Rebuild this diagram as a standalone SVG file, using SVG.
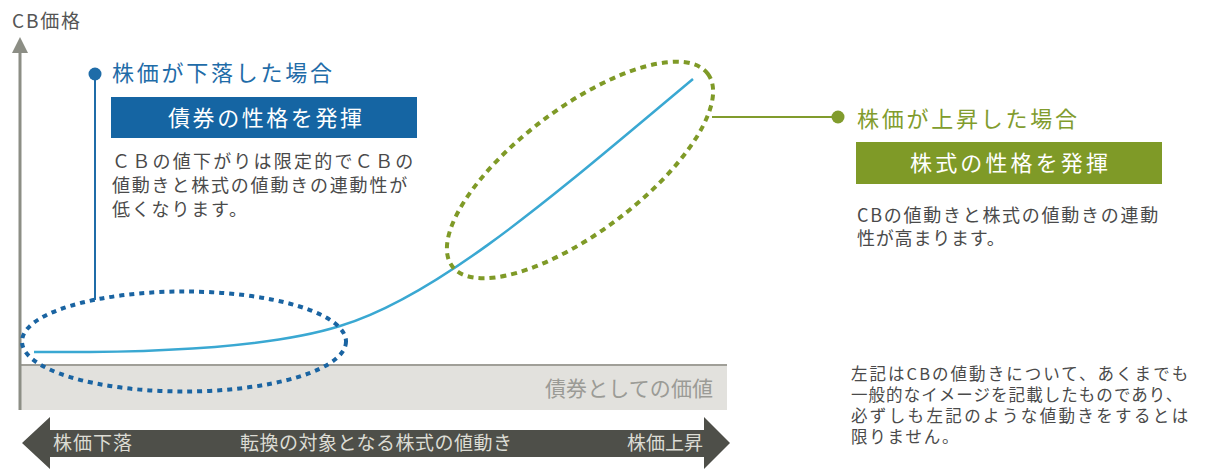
<svg xmlns="http://www.w3.org/2000/svg" width="1208" height="471" viewBox="0 0 1208 471">
  <style>
    text { font-family: "Noto Sans CJK JP", "Noto Sans", "Liberation Sans", sans-serif; }
    .body { font-size: 18px; fill: #4a4a4a; letter-spacing: 1.8px; }
    .note { font-size: 16.5px; fill: #4a4a4a; letter-spacing: 1.8px; }
    .title-blue { font-size: 22px; fill: #1f6ca8; }
    .title-green { font-size: 22px; fill: #819c2d; }
    .boxtext { font-size: 22px; fill: #ffffff; text-anchor: middle; }
    .arrowtext { font-size: 19px; fill: #dcdcd4; }
    .dot-blue { fill: none; stroke: #1a64a2; stroke-width: 4; stroke-dasharray: 5 5; }
    .dot-green { fill: none; stroke: #7f9a27; stroke-width: 4; stroke-dasharray: 6 5; }
  </style>

  <rect width="1208" height="471" fill="#ffffff"/>

  <g id="axis">
    <rect x="20" y="365" width="707" height="45" fill="#e2e1dd"/>
    <line x1="20" y1="365" x2="727" y2="365" stroke="#a09f98" stroke-width="2"/>
    <text x="545" y="396" font-size="21" fill="#9b9b96" textLength="168" lengthAdjust="spacing">債券としての価値</text>
    <line x1="20" y1="50" x2="20" y2="410" stroke="#8c8e85" stroke-width="3"/>
    <polygon points="20,37 12,53 28,53" fill="#8c8e85"/>
    <text x="12" y="28" font-size="19" fill="#555555" textLength="68" lengthAdjust="spacing">CB価格</text>
  </g>

  <g id="stock-arrow">
    <polygon points="22,443 50,417 50,430 704,430 704,417 730,443 704,469 704,457 50,457 50,469" fill="#4e4f49"/>
    <text class="arrowtext" x="53" y="450" textLength="79" lengthAdjust="spacing">株価下落</text>
    <text class="arrowtext" x="240" y="450" textLength="272" lengthAdjust="spacing">転換の対象となる株式の値動き</text>
    <text class="arrowtext" x="627" y="450" textLength="76" lengthAdjust="spacing">株価上昇</text>
  </g>

  <g id="cb-curve">
    <path d="M34,352 C150,353 270,348 340,326 C440,296 560,190 693,79" fill="none" stroke="#3aa8d2" stroke-width="2.5"/>
  </g>

  <g id="connectors">
    <ellipse class="dot-blue" cx="184" cy="341.5" rx="162" ry="50"/>
    <line x1="95" y1="74" x2="95" y2="300" stroke="#1f6ca8" stroke-width="2"/>
    <circle cx="95" cy="74" r="6.5" fill="#1f6ca8"/>
    <ellipse class="dot-green" cx="0" cy="0" rx="160" ry="62" transform="translate(580,170) rotate(-37)"/>
    <line x1="712" y1="117" x2="838" y2="117" stroke="#819c2d" stroke-width="2"/>
    <circle cx="838" cy="117" r="6.5" fill="#819c2d"/>
  </g>

  <g id="node-fall">
    <text class="title-blue" x="112" y="81" textLength="220" lengthAdjust="spacing">株価が下落した場合</text>
    <rect x="111" y="97" width="306" height="41" fill="#1565a3"/>
    <text class="boxtext" x="265" y="126" textLength="194" lengthAdjust="spacing">債券の性格を発揮</text>
    <text class="body" x="112" y="168" textLength="303" lengthAdjust="spacing">ＣＢの値下がりは限定的でＣＢの</text>
    <text class="body" x="112" y="192" textLength="297" lengthAdjust="spacing">値動きと株式の値動きの連動性が</text>
    <text class="body" x="112" y="216">低くなります。</text>
  </g>

  <g id="node-rise">
    <text class="title-green" x="857" y="127" textLength="220" lengthAdjust="spacing">株価が上昇した場合</text>
    <rect x="856" y="142" width="306" height="42" fill="#7f9a27"/>
    <text class="boxtext" x="1009" y="171" textLength="198" lengthAdjust="spacing">株式の性格を発揮</text>
    <text class="body" x="857" y="222" textLength="303" lengthAdjust="spacing">CBの値動きと株式の値動きの連動</text>
    <text class="body" x="857" y="245" style="letter-spacing:0.8px">性が高まります。</text>
  </g>

  <g id="note">
    <text class="note" x="851" y="380" textLength="339" lengthAdjust="spacing">左記はCBの値動きについて、あくまでも</text>
    <text class="note" x="851" y="401" textLength="333" lengthAdjust="spacing">一般的なイメージを記載したものであり、</text>
    <text class="note" x="851" y="422" textLength="339" lengthAdjust="spacing">必ずしも左記のような値動きをするとは</text>
    <text class="note" x="851" y="443">限りません。</text>
  </g>
</svg>
